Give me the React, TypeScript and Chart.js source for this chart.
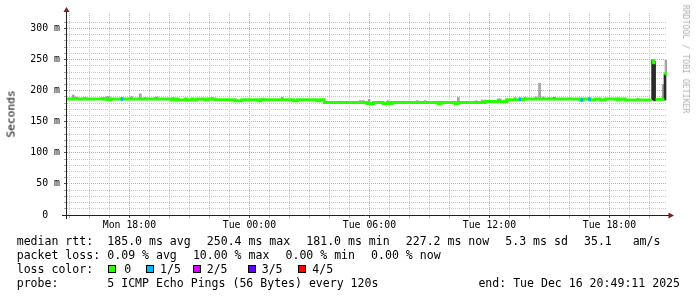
import React, { useEffect, useRef } from 'react';
import { Chart, registerables } from 'chart.js';

Chart.register(...registerables);

// ---- time axis (hours since Mon 00:00) ----
const X_MIN = 14.88;
const X_MAX = 44.88;
const xGridHours = [
  15, 16, 17, 18, 19, 20, 21, 22, 23, 24, 25, 26, 27, 28, 29,
  30, 31, 32, 33, 34, 35, 36, 37, 38, 39, 40, 41, 42, 43, 44,
];
const xTickLabels: Record<number, string> = {
  18: 'Mon 18:00',
  24: 'Tue 00:00',
  30: 'Tue 06:00',
  36: 'Tue 12:00',
  42: 'Tue 18:00',
};

// ---- value axis (ms) ----
const Y_MAX = 325;
const yTickLabels: Record<number, string> = {
  0: '0  ',
  50: '50 m',
  100: '100 m',
  150: '150 m',
  200: '200 m',
  250: '250 m',
  300: '300 m',
};

// ---- median rtt, step function: value holds from time until next time ----
const medianTimes = [
  14.88, 16.87, 17.07, 20.12, 20.29, 20.44, 20.79, 20.87, 21.12, 21.19, 21.37, 21.79, 21.94,
  22.29, 23.29, 23.62, 24.44, 24.57, 26.2, 26.4, 27.37, 27.54, 27.74, 29.87, 30.2, 30.69,
  30.89, 31.04, 31.14, 33.44, 33.59, 34.29, 34.44, 35.79, 36.87, 37.7, 40.54, 40.69, 41.04,
  41.29, 41.54, 41.79, 42.39, 42.54, 42.79, 44.12, 44.21, 44.31, 44.75,
];
const medianValues = [
  186.5, 185.5, 186.5, 185, 186.5, 185, 186.5, 185, 186.5, 185, 186.5, 185, 186.5,
  185.5, 184, 185.5, 184, 185.5, 184, 185.5, 184, 185.5, 181, 179.5, 181, 179.5,
  181, 179.5, 181, 179.5, 181, 179.5, 181, 182.5, 185.5, 186.5, 185, 186.5, 185,
  186.5, 185, 186.5, 185, 186.5, 185, 248.5, 245, 186, 227.2,
];

// ---- packet loss events (1/5 lost) ----
const lossTimes = [17.63, 37.53, 40.62, 41.0];
const lossValues = [186.5, 186.5, 185, 186.5];
const lossLevels = [1, 1, 1, 1];

// ---- smoke (spread of the 5 pings) ----
const smokeTimes = [
  15.19, 15.29, 15.39, 15.74, 15.84, 16.64, 16.74, 16.89, 16.99, 18.11, 18.54, 18.79, 19.29,
  19.39, 20.19, 22.14, 24.64, 24.74, 25.64, 29.54, 29.69, 29.99, 30.94, 32.39, 32.79, 34.45,
  35.34, 35.64, 35.79, 36.44, 36.54, 37.29, 37.79, 38.33, 38.51, 38.69, 38.99, 40.03, 42.43,
  43.43, 44.69, 44.83,
];
const smokeLow = [
  186, 186, 186, 186, 186, 186, 186, 186, 186, 186, 186, 186, 186,
  186, 185, 186, 185, 185, 185, 181, 181, 181, 181, 181, 181, 181,
  181, 181, 182, 182, 182, 186, 187, 186, 186, 186, 186, 186, 185,
  185, 186, 227,
];
const smokeHigh = [
  193, 190, 189.5, 189, 189, 189, 189, 190.5, 190.5, 190.5, 195, 189, 189.5,
  190, 189, 189, 188, 188, 189.5, 184, 184, 186, 184, 184, 184, 189,
  184, 185, 185, 187, 187, 189, 189, 190, 212, 190, 189, 188.5, 188.5,
  188, 210, 249,
];
const darkSmokeTimes = [39.24, 44.16, 44.26, 44.78];
const darkSmokeLow = [186, 185, 183.5, 185];
const darkSmokeHigh = [189, 249.5, 247, 227];

// ---- legend text ----
const legendRows = [
  { y: 241.5, items: [
    { x: 16.7, t: 'median rtt:' },
    { x: 107.3, t: '185.0 ms avg' },
    { x: 206.8, t: '250.4 ms max' },
    { x: 306.3, t: '181.0 ms min' },
    { x: 405.8, t: '227.2 ms now' },
    { x: 505.3, t: '5.3 ms sd' },
    { x: 584, t: '35.1   am/s' },
  ] },
  { y: 255.5, items: [
    { x: 16.7, t: 'packet loss:' },
    { x: 107.3, t: '0.09 % avg' },
    { x: 192.9, t: '10.00 % max' },
    { x: 285.5, t: '0.00 % min' },
    { x: 371.1, t: '0.00 % now' },
  ] },
];
const lossLegendLabels = ['0', '1/5', '2/5', '3/5', '4/5'];
const lossColors = ['#26ff00', '#00b8ff', '#d400ff', '#6400ff', '#ff0000'];
const probeText = '5 ICMP Echo Pings (56 Bytes) every 120s';
const endText = 'end: Tue Dec 16 20:49:11 2025';

const GREEN = lossColors[0];
const MINOR = '#c8c8c8';
const MAJOR = '#e69a9a';
const AXIS = '#1f1f1f';
const ARROW = '#7f1f1f';
const MONO = '"DejaVu Sans Mono", monospace';

const axisPlugin = {
  id: 'rrdAxes',
  afterDatasetsDraw(chart: any) {
    const { ctx, chartArea: a } = chart;
    ctx.save();
    ctx.strokeStyle = AXIS;
    ctx.lineWidth = 1;
    const yx = a.left - 0.5;
    const xy = a.bottom + 0.5;
    ctx.beginPath();
    ctx.moveTo(a.left - 5, xy);
    ctx.lineTo(a.right + 2, xy);
    ctx.stroke();
    ctx.beginPath();
    ctx.moveTo(yx, a.bottom + 4);
    ctx.lineTo(yx, a.top - 2);
    ctx.stroke();
    ctx.fillStyle = ARROW;
    ctx.beginPath();
    ctx.moveTo(yx - 3, a.top - 1);
    ctx.lineTo(yx + 3, a.top - 1);
    ctx.lineTo(yx, a.top - 6);
    ctx.closePath();
    ctx.fill();
    ctx.beginPath();
    ctx.moveTo(a.right + 1.5, xy - 3);
    ctx.lineTo(a.right + 1.5, xy + 3);
    ctx.lineTo(a.right + 7, xy);
    ctx.closePath();
    ctx.fill();
    ctx.restore();
  },
};

function Txt({ x, y, t, size = 11.55, color = '#000', right = false }: any) {
  return (
    <div
      style={{
        position: 'absolute',
        left: right ? undefined : x,
        right: right ? 697 - x : undefined,
        top: y - size * 0.5,
        fontFamily: MONO,
        fontSize: size,
        lineHeight: `${size}px`,
        whiteSpace: 'pre',
        color,
      }}
    >
      {t}
    </div>
  );
}

export default function App() {
  const ref = useRef<HTMLCanvasElement | null>(null);

  useEffect(() => {
    document.body.style.margin = '0';
    const canvas = ref.current;
    if (!canvas) return;

    const medianPts: { x: number; y: number }[] = [];
    medianTimes.forEach((t, i) => {
      const tEnd = i + 1 < medianTimes.length ? medianTimes[i + 1] : X_MAX;
      medianPts.push({ x: t, y: medianValues[i] });
      medianPts.push({ x: tEnd, y: medianValues[i] });
    });

    const half = 2.4;
    const chart = new Chart(canvas, {
      type: 'line',
      data: {
        datasets: [
          {
            type: 'bar',
            data: lossTimes.map((t, i) => ({ x: t, y: [lossValues[i] - half, lossValues[i] + half] })),
            backgroundColor: lossLevels.map((l) => lossColors[l]),
            borderWidth: 0,
            barThickness: 2,
            grouped: false,
          } as any,
          {
            type: 'line',
            data: medianPts,
            borderColor: GREEN,
            borderWidth: 3,
            pointRadius: 0,
            tension: 0,
            borderCapStyle: 'butt',
            segment: {
              borderColor: (c: any) =>
                c.p0.parsed.x === c.p1.parsed.x && Math.abs(c.p0.parsed.y - c.p1.parsed.y) > 10
                  ? 'rgba(0,0,0,0)'
                  : GREEN,
            },
          } as any,
          {
            type: 'bar',
            data: darkSmokeTimes.map((t, i) => ({ x: t, y: [darkSmokeLow[i], darkSmokeHigh[i]] })),
            backgroundColor: '#2a2a2a',
            borderWidth: 0,
            barThickness: 2,
            grouped: false,
          } as any,
          {
            type: 'bar',
            data: smokeTimes.map((t, i) => ({ x: t, y: [smokeLow[i], smokeHigh[i]] })),
            backgroundColor: '#a3a3a3',
            borderWidth: 0,
            barThickness: 2,
            grouped: false,
          } as any,
        ],
      },
      options: {
        animation: false,
        responsive: false,
        devicePixelRatio: 1,
        layout: { padding: { left: 0, right: 30, top: 13, bottom: 62 } },
        plugins: { legend: { display: false }, tooltip: { enabled: false } },
        scales: {
          x: {
            type: 'linear',
            min: X_MIN,
            max: X_MAX,
            offset: false,
            afterBuildTicks: (s: any) => {
              s.ticks = xGridHours.map((v) => ({ value: v }));
            },
            afterFit: (s: any) => {
              s.height = 20;
            },
            grid: {
              offset: false,
              drawTicks: true,
              tickLength: 3,
              color: (c: any) => (c.tick && c.tick.value % 6 === 0 ? MAJOR : MINOR),
              tickColor: (c: any) => (c.tick && c.tick.value % 6 === 0 ? '#555' : '#aaa'),
            },
            border: { display: false, dash: [1, 1] },
            ticks: {
              autoSkip: false,
              maxRotation: 0,
              minRotation: 0,
              padding: 2,
              color: '#000',
              font: { family: MONO, size: 9.85 },
              callback: (v: any) => xTickLabels[v] || '',
            },
          },
          y: {
            type: 'linear',
            min: 0,
            max: Y_MAX,
            afterFit: (s: any) => {
              s.width = 67;
            },
            grid: {
              drawTicks: true,
              tickLength: 3,
              color: (c: any) => {
                const v = c.tick.value;
                if (v === 0 || v % 10 !== 0) return 'rgba(0,0,0,0)';
                return v % 50 === 0 ? MAJOR : MINOR;
              },
              tickColor: (c: any) => {
                const v = c.tick.value;
                if (v % 10 !== 0) return 'rgba(0,0,0,0)';
                return v % 50 === 0 ? '#555' : '#aaa';
              },
            },
            border: { display: false, dash: [1, 1] },
            ticks: {
              stepSize: 10,
              autoSkip: false,
              padding: 4,
              color: '#000',
              font: { family: MONO, size: 9.85 },
              callback: (v: any) => (yTickLabels[v] !== undefined ? yTickLabels[v] : ''),
            },
          },
        },
      },
      plugins: [axisPlugin],
    });
    return () => chart.destroy();
  }, []);

  return (
    <div style={{ position: 'relative', width: 697, height: 297, background: '#fff', overflow: 'hidden' }}>
      <canvas ref={ref} width={697} height={297} style={{ position: 'absolute', left: 0, top: 0, width: 697, height: 297 }} />
      <div
        style={{
          position: 'absolute', left: 10.8, top: 113.5, transform: 'translate(-50%, -50%) rotate(-90deg)',
          fontFamily: MONO, fontSize: 11.2, whiteSpace: 'pre', color: '#000',
        }}
      >
        Seconds
      </div>
      <div
        style={{
          position: 'absolute', left: 686, top: 59, transform: 'translate(-50%, -50%) rotate(90deg)',
          fontFamily: MONO, fontSize: 8.2, whiteSpace: 'pre', color: '#b0b0b0',
        }}
      >
        RRDTOOL / TOBI OETIKER
      </div>
      {legendRows.map((row, ri) =>
        row.items.map((it, ii) => <Txt key={`${ri}-${ii}`} x={it.x} y={row.y} t={it.t} />)
      )}
      <Txt x={16.7} y={269.5} t="loss color:" />
      {lossLegendLabels.map((lab, i) => {
        const bx = [108.3, 145.7, 193.3, 247.7, 297.7][i];
        const tx = [124.3, 160, 206.7, 261.7, 312.3][i];
        return (
          <React.Fragment key={lab}>
            <div
              style={{
                position: 'absolute', left: bx, top: 265, width: 6, height: 6,
                background: lossColors[i], border: '1px solid #000',
              }}
            />
            <Txt x={tx} y={269.5} t={lab} />
          </React.Fragment>
        );
      })}
      <Txt x={16.7} y={283.5} t="probe:" />
      <Txt x={107.3} y={283.5} t={probeText} />
      <Txt x={680} y={283.5} t={endText} right />
    </div>
  );
}
